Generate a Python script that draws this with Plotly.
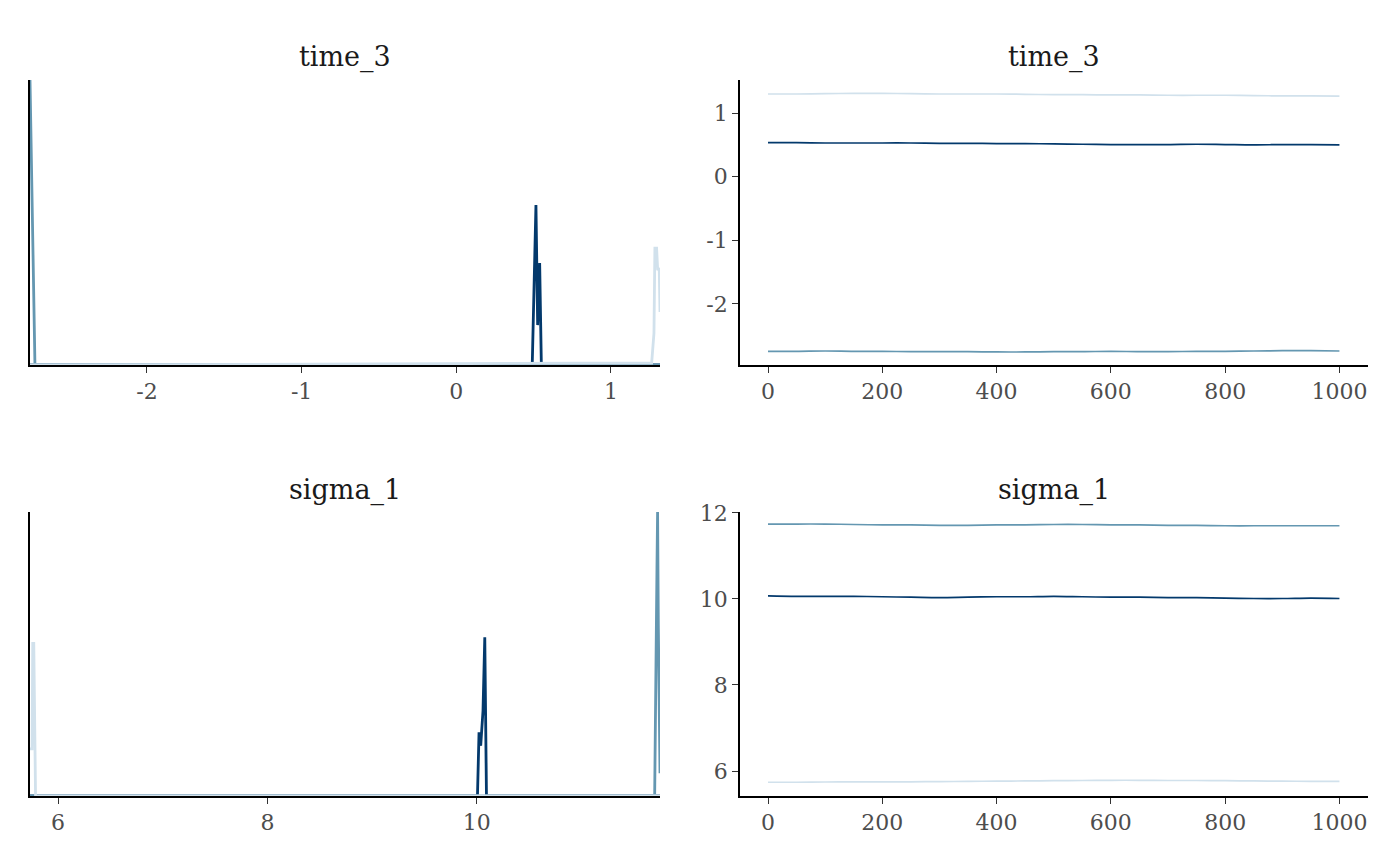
import plotly.graph_objects as go

# colours of the three chains (bayesplot "blue" scheme)
chain_colors = ["#d1e1ec", "#6497b1", "#03396c"]

# --- density overlay, time_3 (x values, relative density) ---
time3_dens_x = [
    [-2.756, 1.263, 1.278, 1.284, 1.295, 1.302, 1.312, 1.317],
    [-2.756, -2.740, -2.724, 1.317],
    [-2.756, 0.491, 0.515, 0.526, 0.539, 0.550, 1.317],
]
time3_dens_y = [
    [0.0, 0.007, 0.112, 0.41, 0.41, 0.333, 0.34, 0.186],
    [1.0, 0.5, 0.0, 0.0],
    [0.0, 0.0, 0.561, 0.140, 0.358, 0.0, 0.0],
]

# --- density overlay, sigma_1 ---
sigma1_dens_x = [
    [5.732, 5.744, 5.752, 5.758, 5.768, 5.785, 11.751],
    [5.732, 11.700, 11.722, 11.728, 11.735, 11.745, 11.751],
    [5.732, 10.007, 10.022, 10.038, 10.060, 10.077, 10.093, 11.751],
]
sigma1_dens_y = [
    [0.166, 0.166, 0.166, 0.537, 0.537, 0.0, 0.0],
    [0.0, 0.0, 0.8, 1.0, 0.6, 0.106, 0.08],
    [0.0, 0.0, 0.224, 0.177, 0.30, 0.559, 0.0, 0.0],
]

# --- traces (iteration, value) ---
iterations = list(range(0, 1001, 50))
time3_trace = [
    [1.30, 1.30, 1.305, 1.31, 1.31, 1.305, 1.30, 1.30, 1.30, 1.295, 1.29,
     1.29, 1.285, 1.285, 1.28, 1.28, 1.28, 1.275, 1.27, 1.27, 1.265],
    [-2.745, -2.745, -2.74, -2.745, -2.745, -2.75, -2.75, -2.75, -2.755, -2.755, -2.75,
     -2.75, -2.745, -2.75, -2.75, -2.745, -2.745, -2.74, -2.735, -2.735, -2.74],
    [0.535, 0.535, 0.53, 0.53, 0.53, 0.53, 0.525, 0.525, 0.52, 0.52, 0.515,
     0.51, 0.505, 0.505, 0.505, 0.51, 0.505, 0.50, 0.505, 0.505, 0.50],
]
sigma1_trace = [
    [5.74, 5.74, 5.745, 5.75, 5.75, 5.75, 5.755, 5.76, 5.765, 5.77, 5.775,
     5.78, 5.785, 5.785, 5.78, 5.78, 5.775, 5.77, 5.765, 5.76, 5.76],
    [11.74, 11.74, 11.74, 11.73, 11.72, 11.72, 11.71, 11.71, 11.72, 11.72, 11.73,
     11.73, 11.72, 11.72, 11.71, 11.71, 11.70, 11.70, 11.70, 11.70, 11.70],
    [10.07, 10.06, 10.06, 10.06, 10.05, 10.04, 10.03, 10.04, 10.05, 10.05, 10.06,
     10.05, 10.04, 10.04, 10.03, 10.03, 10.02, 10.01, 10.01, 10.02, 10.01],
]

# tick labels
time3_dens_ticks = [-2, -1, 0, 1]
time3_dens_labels = ["-2", "-1", "0", "1"]
sigma1_dens_ticks = [6, 8, 10]
sigma1_dens_labels = ["6", "8", "10"]
iter_ticks = [0, 200, 400, 600, 800, 1000]
iter_labels = ["0", "200", "400", "600", "800", "1000"]
time3_trace_ticks = [-2, -1, 0, 1]
time3_trace_labels = ["-2", "-1", "0", "1"]
sigma1_trace_ticks = [6, 8, 10, 12]
sigma1_trace_labels = ["6", "8", "10", "12"]

FONT = "DejaVu Serif"

fig = go.Figure()

# draw order: dark, mid, light (light ends up on top of the baseline)
for i in [2, 1, 0]:
    fig.add_trace(go.Scatter(x=time3_dens_x[i], y=time3_dens_y[i], mode="lines",
                             line=dict(color=chain_colors[i], width=2.8),
                             xaxis="x", yaxis="y", showlegend=False))
    fig.add_trace(go.Scatter(x=iterations, y=time3_trace[i], mode="lines",
                             line=dict(color=chain_colors[i], width=1.7, shape="spline"),
                             xaxis="x2", yaxis="y2", showlegend=False))
    fig.add_trace(go.Scatter(x=sigma1_dens_x[i], y=sigma1_dens_y[i], mode="lines",
                             line=dict(color=chain_colors[i], width=2.8),
                             xaxis="x3", yaxis="y3", showlegend=False))
    fig.add_trace(go.Scatter(x=iterations, y=sigma1_trace[i], mode="lines",
                             line=dict(color=chain_colors[i], width=1.7, shape="spline"),
                             xaxis="x4", yaxis="y4", showlegend=False))

W, H = 1400, 866
OFF = 8  # page body margin


def hdom(a, b):
    return [(a - OFF) / W, (b - OFF) / W]


def vdom(top, bottom):
    return [1 - (bottom - OFF) / H, 1 - (top - OFF) / H]


left_dom = hdom(30, 660)
right_dom = hdom(740, 1368)
top_dom = vdom(80, 365)
bot_dom = vdom(512, 796)

tick_font = dict(family=FONT, size=22, color="#4d4d4d")
common = dict(showline=True, linecolor="black", linewidth=1.6, showgrid=False,
              zeroline=False, ticks="outside", ticklen=6, tickcolor="#333333",
              tickwidth=1.2, tickfont=tick_font, automargin=False)
dens_y = dict(showline=True, linecolor="black", linewidth=1.6, showgrid=False,
              zeroline=False, showticklabels=False, ticks="", automargin=False,
              range=[0, 1.0])

fig.update_layout(
    width=W, height=H,
    margin=dict(l=0, r=0, t=0, b=0, autoexpand=False),
    paper_bgcolor="white", plot_bgcolor="white",
    font=dict(family=FONT),
    xaxis=dict(domain=left_dom, anchor="y", range=[-2.756, 1.317],
               tickvals=time3_dens_ticks, ticktext=time3_dens_labels, **common),
    yaxis=dict(domain=top_dom, anchor="x", **dens_y),
    xaxis2=dict(domain=right_dom, anchor="y2", range=[-49, 1050],
                tickvals=iter_ticks, ticktext=iter_labels, **common),
    yaxis2=dict(domain=top_dom, anchor="x2", range=[-2.96, 1.52],
                tickvals=time3_trace_ticks, ticktext=time3_trace_labels, **common),
    xaxis3=dict(domain=left_dom, anchor="y3", range=[5.732, 11.751],
                tickvals=sigma1_dens_ticks, ticktext=sigma1_dens_labels, **common),
    yaxis3=dict(domain=bot_dom, anchor="x3", **dens_y),
    xaxis4=dict(domain=right_dom, anchor="y4", range=[-49, 1050],
                tickvals=iter_ticks, ticktext=iter_labels, **common),
    yaxis4=dict(domain=bot_dom, anchor="x4", range=[5.42, 12.02],
                tickvals=sigma1_trace_ticks, ticktext=sigma1_trace_labels, **common),
)

title_font = dict(family=FONT, size=27, color="#1a1a1a")
for xc, ypx, txt in [
    ((left_dom[0] + left_dom[1]) / 2, 57, "time_3"),
    ((right_dom[0] + right_dom[1]) / 2, 57, "time_3"),
    ((left_dom[0] + left_dom[1]) / 2, 490, "sigma_1"),
    ((right_dom[0] + right_dom[1]) / 2, 490, "sigma_1"),
]:
    fig.add_annotation(x=xc, y=1 - (ypx - OFF) / H, xref="paper", yref="paper", text=txt,
                       showarrow=False, font=title_font, xanchor="center", yanchor="middle")

fig.write_html("out.html")
